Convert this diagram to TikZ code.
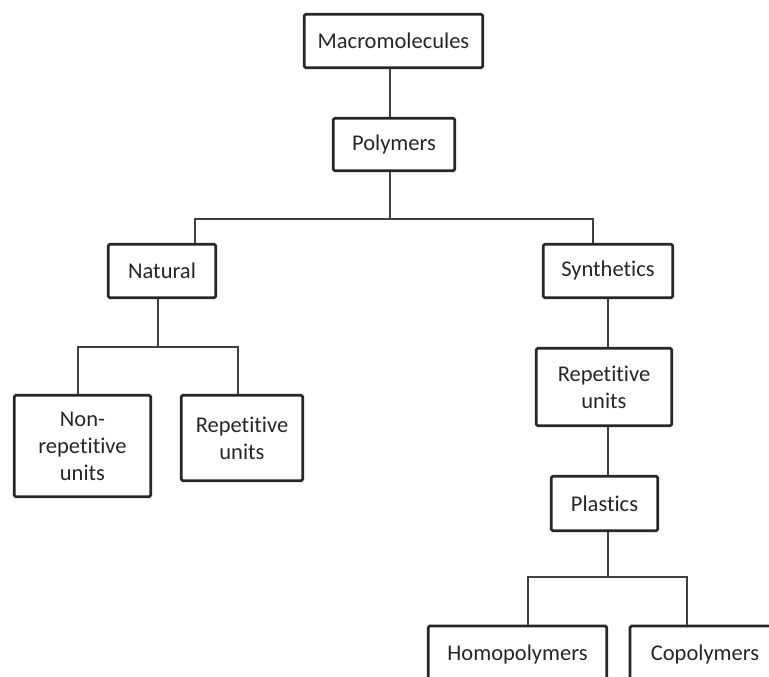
\documentclass[tikz,border=0pt]{standalone}
\usepackage{fontspec}
\setmainfont[Ligatures=NoCommon,RawFeature=-liga]{Carlito}
\begin{document}
\begin{tikzpicture}[x=1pt,y=-1pt,
  box/.style={draw=black!85, line width=2.6pt, rounded corners=1.5pt, align=center, inner sep=0pt,
    font=\fontsize{22.5}{27}\selectfont, text=black!85},
  conn/.style={draw=black!75, line width=2pt}]
\useasboundingbox (0,0) rectangle (769,677);
\clip (0,0) rectangle (769,677);
\node[box, minimum width=178.5pt, minimum height=53.5pt] (mac) at (393.5,41) {Macromolecules};
\node[box, minimum width=121.5pt, minimum height=52.5pt] (pol) at (394,144.5) {Polymers};
\node[box, minimum width=107.5pt, minimum height=53.5pt] (nat) at (162,271) {Natural};
\node[box, minimum width=129.5pt, minimum height=53.5pt] (syn) at (608,271) {Synthetics};
\node[box, minimum width=136.5pt, minimum height=101.5pt] (nonrep) at (82.5,446) {Non-\\repetitive\\units};
\node[box, minimum width=121.5pt, minimum height=85.5pt] (repl) at (242,438) {Repetitive\\units};
\node[box, minimum width=135.5pt, minimum height=77.5pt] (repr) at (604,387) {Repetitive\\units};
\node[box, minimum width=106.5pt, minimum height=54.5pt] (pla) at (604.5,503.5) {Plastics};
\node[box, minimum width=178.5pt, minimum height=56pt] (homo) at (517.5,654) {Homopolymers};
\node[box, minimum width=150pt, minimum height=56pt] (copo) at (705,654) {Copolymers};
\coordinate (b1) at (390,219);
\coordinate (b2) at (158,347);
\coordinate (b3) at (608,577);
% connectors
\draw[conn] (mac.south -| 390,0) -- (pol.north -| 390,0);
\draw[conn] (pol.south -| 390,0) -- (b1);
\draw[conn] (nat.north -| 195,0) |- (b1) -| (syn.north -| 593,0);
\draw[conn] (nat.south -| 158,0) -- (b2);
\draw[conn] (nonrep.north -| 78,0) |- (b2) -| (repl.north -| 238,0);
\draw[conn] (syn.south -| 608,0) -- (repr.north -| 608,0);
\draw[conn] (repr.south -| 608,0) -- (pla.north -| 608,0);
\draw[conn] (pla.south -| 608,0) -- (b3);
\draw[conn] (homo.north -| 528,0) |- (b3) -| (copo.north -| 687,0);
\end{tikzpicture}
\end{document}
